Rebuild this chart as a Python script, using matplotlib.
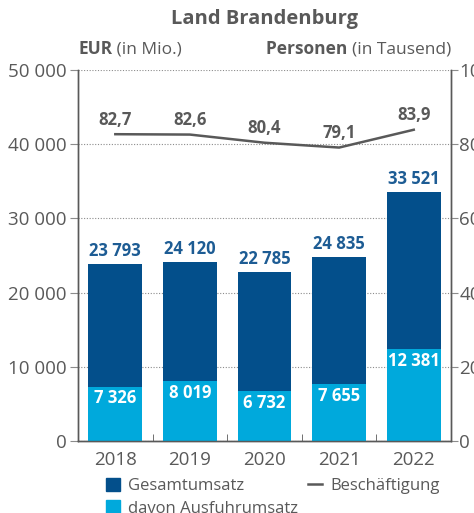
import matplotlib.pyplot as plt
from matplotlib.patches import Patch
from matplotlib.lines import Line2D

plt.rcParams['font.family'] = ['Open Sans', 'DejaVu Sans']

# Umsatz in Mio. EUR, Beschäftigte in Tausend
jahre = ['2018', '2019', '2020', '2021', '2022']
gesamtumsatz = [23793, 24120, 22785, 24835, 33521]
ausfuhrumsatz = [7326, 8019, 6732, 7655, 12381]
beschaeftigung = [82.7, 82.6, 80.4, 79.1, 83.9]

DUNKELBLAU = '#034f8b'
HELLBLAU = '#00a9dc'
GRAU = '#595959'


def fmt_tsd(v):
    return f'{v:,}'.replace(',', ' ')


fig = plt.figure(figsize=(4.74, 5.13), dpi=100)
ax = fig.add_axes([0.1646, 0.1404, 0.787, 0.7231])
ax2 = ax.twinx()

x = range(len(jahre))
breite = 0.72
b1 = ax.bar(x, gesamtumsatz, breite, color=DUNKELBLAU, zorder=3)
b2 = ax.bar(x, ausfuhrumsatz, breite, color=HELLBLAU, zorder=4)

for rect, v in zip(b1, gesamtumsatz):
    ax.annotate(fmt_tsd(v), xy=(rect.get_x() + rect.get_width() / 2, v),
                xytext=(0, 3), textcoords='offset points', ha='center', va='bottom',
                fontsize=12, fontweight='bold', color='#1d5c94', zorder=5)
for rect, v in zip(b2, ausfuhrumsatz):
    ax.annotate(fmt_tsd(v), xy=(rect.get_x() + rect.get_width() / 2, v),
                xytext=(0, -2), textcoords='offset points', ha='center', va='top',
                fontsize=12, fontweight='bold', color='white', zorder=5)

ax2.plot(x, beschaeftigung, color=GRAU, linewidth=1.8, zorder=5)
for i, v in zip(x, beschaeftigung):
    ax2.annotate(f'{v:.1f}'.replace('.', ','), xy=(i, v), xytext=(0, 4),
                 textcoords='offset points', ha='center', va='bottom',
                 fontsize=12, fontweight='bold', color=GRAU)

ax.set_xlim(-0.5, len(jahre) - 0.5)
ax.set_ylim(0, 50000)
ax2.set_ylim(0, 100)
ax.set_yticks(range(0, 50001, 10000))
ax.set_yticklabels([fmt_tsd(t) for t in range(0, 50001, 10000)])
ax2.set_yticks(range(0, 101, 20))
ax.yaxis.grid(True, linestyle=(0, (1, 1.5)), color='#8c8c8c', linewidth=0.8, zorder=0)
ax.set_axisbelow(True)

# Jahresbeschriftung mittig, Striche an den Kategoriegrenzen
ax.set_xticks(list(x))
ax.set_xticklabels(jahre)
ax.tick_params(axis='x', which='major', length=0, pad=7)
ax.set_xticks([i + 0.5 for i in range(len(jahre) - 1)], minor=True)
ax.tick_params(axis='x', which='minor', direction='in', length=5, color=GRAU)

for a in (ax, ax2):
    a.tick_params(axis='y', length=6, width=0.8, color='#8c8c8c',
                  labelsize=13.5, labelcolor=GRAU, pad=2)
    a.spines['top'].set_visible(False)
    for s in ('left', 'right', 'bottom'):
        a.spines[s].set_color(GRAU)
        a.spines[s].set_linewidth(1.0)
ax2.tick_params(axis='y', length=5, pad=1)
ax.tick_params(axis='x', labelsize=13.5, labelcolor=GRAU)

fig.text(0.557, 0.962, 'Land Brandenburg', ha='center', va='center',
         fontsize=14.5, fontweight='bold', color=GRAU)

# Achsentitel: fetter Teil + normaler Zusatz
eur = fig.text(0.1646, 0.904, 'EUR', ha='left', va='center', fontsize=12.5,
               fontweight='bold', color=GRAU)
ax.annotate(' (in Mio.)', xy=(1, 0.5), xycoords=eur, ha='left', va='center',
            fontsize=12.5, color=GRAU, annotation_clip=False)
tsd = fig.text(0.9515, 0.904, '(in Tausend)', ha='right', va='center',
               fontsize=12.5, color=GRAU)
ax.annotate('Personen ', xy=(0, 0.5), xycoords=tsd, ha='right', va='center',
            fontsize=12.5, fontweight='bold', color=GRAU, annotation_clip=False)

handles = [Patch(color=DUNKELBLAU, label='Gesamtumsatz'),
           Patch(color=HELLBLAU, label='davon Ausfuhrumsatz'),
           Line2D([], [], color=GRAU, linewidth=1.8, label='Beschäftigung')]
fig.legend(handles=handles, ncol=2, loc='upper left', bbox_to_anchor=(0.2236, 0.069),
           frameon=False, fontsize=12, labelcolor=GRAU, handlelength=0.85,
           handleheight=0.85, handletextpad=0.5, columnspacing=0.55, labelspacing=0.38,
           borderpad=0, borderaxespad=0)

fig.savefig('out.png', dpi=100)
